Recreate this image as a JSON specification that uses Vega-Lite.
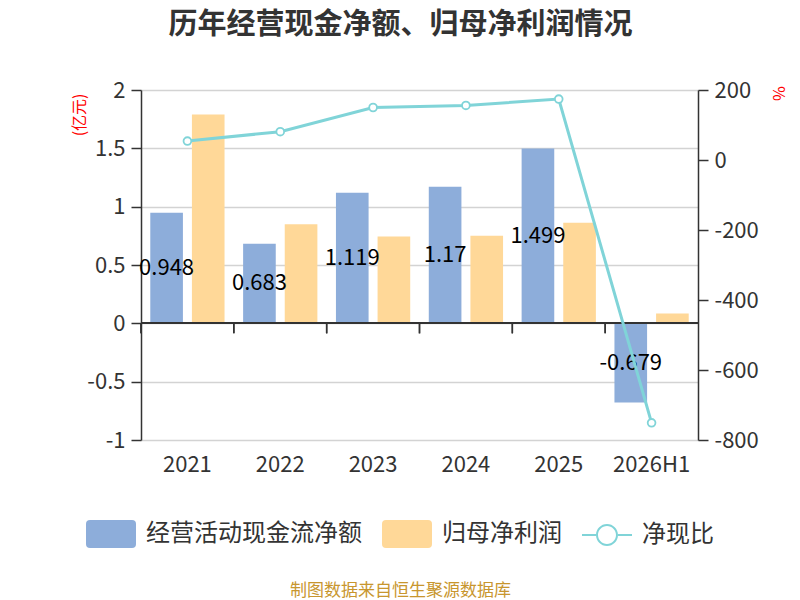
{
  "$schema": "https://vega.github.io/schema/vega-lite/v6.json",
  "width": 557,
  "height": 350,
  "autosize": {"type": "none"},
  "padding": {"left": 141, "top": 90, "right": 102, "bottom": 160},
  "background": "white",
  "title": {
    "text": "历年经营现金净额、归母净利润情况",
    "anchor": "middle",
    "frame": "group",
    "dx": -19,
    "offset": 39,
    "fontSize": 29,
    "fontWeight": "bold",
    "color": "#333333",
    "font": "Noto Sans CJK SC"
  },
  "config": {
    "view": {"stroke": null},
    "font": "Noto Sans CJK SC",
    "axis": {
      "labelFont": "Noto Sans CJK SC",
      "titleFont": "Noto Sans CJK SC",
      "labelFontSize": 22,
      "labelColor": "#333333"
    }
  },
  "data": {
    "values": [
      {"year": "2021", "series": "经营活动现金流净额", "value": 0.948},
      {"year": "2021", "series": "归母净利润", "value": 1.79},
      {"year": "2022", "series": "经营活动现金流净额", "value": 0.683},
      {"year": "2022", "series": "归母净利润", "value": 0.85},
      {"year": "2023", "series": "经营活动现金流净额", "value": 1.119},
      {"year": "2023", "series": "归母净利润", "value": 0.745},
      {"year": "2024", "series": "经营活动现金流净额", "value": 1.17},
      {"year": "2024", "series": "归母净利润", "value": 0.75},
      {"year": "2025", "series": "经营活动现金流净额", "value": 1.499},
      {"year": "2025", "series": "归母净利润", "value": 0.863},
      {"year": "2026H1", "series": "经营活动现金流净额", "value": -0.679},
      {"year": "2026H1", "series": "归母净利润", "value": 0.085}
    ]
  },
  "layer": [
    {
      "layer": [
        {
          "mark": {"type": "bar"},
          "encoding": {
            "x": {
              "field": "year",
              "type": "nominal",
              "scale": {"paddingInner": 0, "paddingOuter": 0},
              "axis": {
                "title": "制图数据来自恒生聚源数据库",
                "titleColor": "#c8962e",
                "titleFontSize": 17,
                "titleFontWeight": "normal",
                "titleX": 259,
                "titleY": 150,
                "titleBaseline": "middle",
                "labelAngle": 0,
                "labelPadding": 14,
                "domain": false,
                "ticks": false
              }
            },
            "xOffset": {
              "field": "series",
              "type": "nominal",
              "scale": {"domain": ["经营活动现金流净额", "归母净利润"], "paddingInner": 0.216, "paddingOuter": 0.223}
            },
            "y": {
              "field": "value",
              "type": "quantitative",
              "scale": {"domain": [-1, 2], "nice": false},
              "axis": {
                "orient": "left",
                "values": [-1, -0.5, 0, 0.5, 1, 1.5, 2],
                "labelExpr": "datum.value + ''",
                "grid": true,
                "gridColor": "#d3d3d3",
                "gridWidth": 1.5,
                "domainColor": "#333333",
                "domainWidth": 1.5,
                "tickColor": "#333333",
                "tickWidth": 1.5,
                "tickSize": 10,
                "labelPadding": 6,
                "title": "(亿元)",
                "titleColor": "#ff0000",
                "titleFontSize": 16,
                "titleFontWeight": "normal",
                "titleAngle": -90,
                "titleX": -62,
                "titleY": 3,
                "titleAlign": "right",
                "titleBaseline": "middle"
              }
            },
            "color": {
              "field": "series",
              "type": "nominal",
              "scale": {
                "domain": ["经营活动现金流净额", "归母净利润", "净现比"],
                "range": ["#8dadda", "#ffd898", "#80d4d8"]
              },
              "legend": {
                "title": null,
                "orient": "none",
                "direction": "horizontal",
                "legendX": -55,
                "legendY": 419,
                "labelFont": "Noto Sans CJK SC",
                "labelFontSize": 24,
                "labelColor": "#333333",
                "labelLimit": 400,
                "labelOffset": 10,
                "columnPadding": 20,
                "symbolSize": 2500,
                "symbolStrokeWidth": 0,
                "encode": {
                  "symbols": {
                    "update": {
                      "shape": {"signal": "datum.value === '净现比' ? 'M-1,-0.04L-0.44,-0.04L-0.44,0.04L-1,0.04ZM0.44,-0.04L1,-0.04L1,0.04L0.44,0.04ZM0.44,0A0.44,0.44,0,1,1,-0.44,0A0.44,0.44,0,1,1,0.44,0ZM0.36,0A0.36,0.36,0,1,0,-0.36,0A0.36,0.36,0,1,0,0.36,0Z' : 'M-0.84,-0.56L0.84,-0.56Q1,-0.56,1,-0.4L1,0.4Q1,0.56,0.84,0.56L-0.84,0.56Q-1,0.56,-1,0.4L-1,-0.4Q-1,-0.56,-0.84,-0.56Z'"},
                      "fill": {"signal": "scale('color', datum.value)"},
                      "fillOpacity": {"value": 1},
                      "strokeWidth": {"value": 0},
                      "opacity": {"value": 1},
                      "size": {"value": 2500}
                    }
                  }
                }
              }
            }
          }
        },
        {
          "mark": {"type": "rule", "color": "#333333", "strokeWidth": 1.5},
          "encoding": {
            "y": {"datum": 0, "type": "quantitative"}
          }
        },
        {
          "mark": {"type": "rule", "color": "#333333", "strokeWidth": 1.5},
          "encoding": {
            "x": {"field": "year", "type": "nominal", "bandPosition": 0},
            "y": {"datum": 0, "type": "quantitative"},
            "y2": {"datum": -0.086}
          }
        }
      ]
    },
    {
      "transform": [{"filter": "datum.series === '经营活动现金流净额'"}],
      "mark": {"type": "text", "fontSize": 22, "color": "#000000", "align": "center", "baseline": "middle", "font": "Noto Sans CJK SC"},
      "encoding": {
        "x": {"field": "year", "type": "nominal"},
        "xOffset": {"field": "series", "type": "nominal"},
        "y": {"field": "value", "type": "quantitative", "scale": {"domain": [-2, 4], "nice": false}, "axis": null},
        "text": {"field": "value", "type": "nominal"}
      }
    },
    {
      "data": {
        "values": [
          {"year": "2021", "ratio": 54},
          {"year": "2022", "ratio": 81},
          {"year": "2023", "ratio": 150},
          {"year": "2024", "ratio": 156},
          {"year": "2025", "ratio": 174},
          {"year": "2026H1", "ratio": -751}
        ]
      },
      "mark": {
        "type": "line",
        "strokeWidth": 3,
        "point": {"filled": false, "fill": "#ffffff", "size": 60, "strokeWidth": 1.8}
      },
      "encoding": {
        "x": {"field": "year", "type": "nominal"},
        "y": {
          "field": "ratio",
          "type": "quantitative",
          "scale": {"domain": [-800, 200], "nice": false},
          "axis": {
            "orient": "right",
            "values": [-800, -600, -400, -200, 0, 200],
            "labelExpr": "datum.value + ''",
            "grid": false,
            "domainColor": "#333333",
            "domainWidth": 1.5,
            "tickColor": "#333333",
            "tickWidth": 1.5,
            "tickSize": 10,
            "labelPadding": 6,
            "title": "%",
            "titleColor": "#ff0000",
            "titleFontSize": 16,
            "titleFontWeight": "normal",
            "titleAngle": 90,
            "titleX": 79,
            "titleY": 3,
            "titleAlign": "center",
            "titleBaseline": "middle"
          }
        },
        "color": {"datum": "净现比"}
      }
    }
  ],
  "resolve": {"scale": {"y": "independent"}}
}
